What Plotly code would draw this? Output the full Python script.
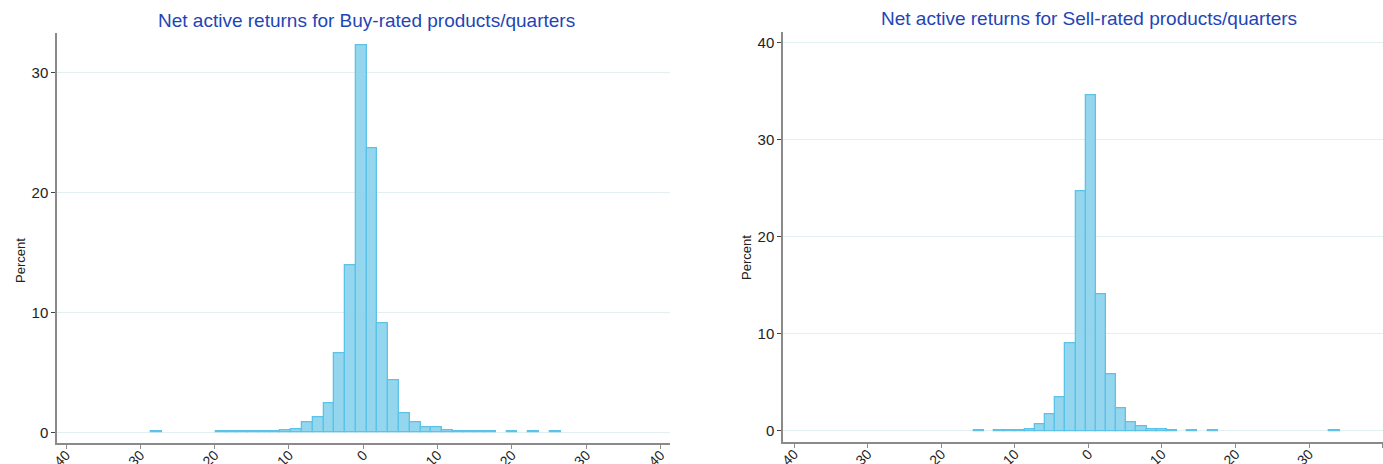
import plotly.graph_objects as go

W, H = 1383, 464

# ---- data (percent of product/quarters per bin) ----
buy_bin_width = 1.45
buy_centers = [-27.82, -19.12, -17.67, -16.22, -14.77, -13.32, -11.87, -10.42, -8.97, -7.52,
               -6.07, -4.62, -3.17, -1.72, -0.27, 1.18, 2.63, 4.08, 5.53, 6.98,
               8.43, 9.88, 11.33, 12.78, 14.23, 15.68, 17.13, 20.03, 22.93, 25.83]
buy_percent = [0.08, 0.08, 0.08, 0.08, 0.07, 0.07, 0.12, 0.19, 0.28, 0.80,
               1.28, 2.44, 6.60, 13.90, 32.25, 23.70, 9.10, 4.33, 1.56, 0.86,
               0.42, 0.42, 0.17, 0.07, 0.07, 0.08, 0.08, 0.08, 0.08, 0.08]

sell_bin_width = 1.38
sell_centers = [-14.85, -12.09, -10.71, -9.33, -7.95, -6.57, -5.19, -3.81, -2.43, -1.05,
                0.33, 1.71, 3.09, 4.47, 5.85, 7.23, 8.61, 9.99, 11.37, 14.13, 16.89, 33.45]
sell_percent = [0.08, 0.06, 0.07, 0.10, 0.20, 0.67, 1.67, 3.45, 9.03, 24.66,
                34.55, 14.03, 5.80, 2.35, 0.90, 0.45, 0.12, 0.17, 0.06, 0.08, 0.08, 0.08]

x_ticks = [-40, -30, -20, -10, 0, 10, 20, 30, 40]
buy_y_ticks = [0, 10, 20, 30]
sell_y_ticks = [0, 10, 20, 30, 40]

titles = ["Net active returns for Buy-rated products/quarters",
          "Net active returns for Sell-rated products/quarters"]

FILL = "rgba(140,210,238,0.92)"
EDGE = "#5cc2e7"
GRID = "#e2f0f2"
AXIS = "#8a8a8a"
TXT = "#222222"
TITLE_C = "#1f45b5"
FONT = "Liberation Sans, Arial, sans-serif"

def px(x):
    return x / W

def py(y):
    return 1 - y / H

fig = go.Figure()
fig.add_trace(go.Bar(x=buy_centers, y=buy_percent, width=[buy_bin_width] * len(buy_centers),
                     marker=dict(color=FILL, line=dict(color=EDGE, width=1.3)),
                     xaxis="x", yaxis="y", showlegend=False, hoverinfo="x+y"))
fig.add_trace(go.Bar(x=sell_centers, y=sell_percent, width=[sell_bin_width] * len(sell_centers),
                     marker=dict(color=FILL, line=dict(color=EDGE, width=1.3)),
                     xaxis="x2", yaxis="y2", showlegend=False, hoverinfo="x+y"))

xcommon = dict(tickmode="array", tickvals=x_ticks, ticktext=[str(t) for t in x_ticks],
               tickangle=-45, ticks="outside", ticklen=5, tickcolor=AXIS, tickwidth=1,
               ticklabelstandoff=-8,
               showline=True, linecolor=AXIS, linewidth=1.5, showgrid=False, zeroline=False,
               automargin=False, tickfont=dict(family=FONT, size=14, color=TXT))
ycommon = dict(tickmode="array", ticks="outside", ticklen=4, tickcolor="#444", tickwidth=1,
               showline=True, linecolor=AXIS, linewidth=1.5, showgrid=True, gridcolor=GRID,
               gridwidth=1, zeroline=False, automargin=False,
               tickfont=dict(family=FONT, size=15, color=TXT))

fig.update_layout(
    width=W, height=H,
    margin=dict(l=0, r=0, t=0, b=0, autoexpand=False),
    paper_bgcolor="white", plot_bgcolor="white",
    bargap=0,
    xaxis=dict(domain=[px(57), px(670)], range=[-41.22, 41.28], anchor="y", **xcommon),
    yaxis=dict(domain=[py(442.7), py(33.3)], range=[-0.87, 33.25], anchor="x",
               tickvals=buy_y_ticks, ticktext=[str(t) for t in buy_y_ticks], **ycommon),
    xaxis2=dict(domain=[px(783), 1.0], range=[-41.5, 40.05], anchor="y2", **xcommon),
    yaxis2=dict(domain=[py(441.7), py(32.3)], range=[-1.12, 41.08], anchor="x2",
                tickvals=sell_y_ticks, ticktext=[str(t) for t in sell_y_ticks], **ycommon),
    annotations=[
        dict(text=titles[0], x=px(366), y=py(20), xref="paper", yref="paper",
             showarrow=False, xanchor="center", yanchor="middle",
             font=dict(family=FONT, size=19, color=TITLE_C)),
        dict(text=titles[1], x=px(1089), y=py(19), xref="paper", yref="paper",
             showarrow=False, xanchor="center", yanchor="middle",
             font=dict(family=FONT, size=19, color=TITLE_C)),
        dict(text="Percent", x=px(20), y=py(261), xref="paper", yref="paper",
             showarrow=False, textangle=-90, xanchor="center", yanchor="middle",
             font=dict(family=FONT, size=13, color=TXT)),
        dict(text="Percent", x=px(746), y=py(258), xref="paper", yref="paper",
             showarrow=False, textangle=-90, xanchor="center", yanchor="middle",
             font=dict(family=FONT, size=13, color=TXT)),
    ],
)

fig.write_html("out.html")
